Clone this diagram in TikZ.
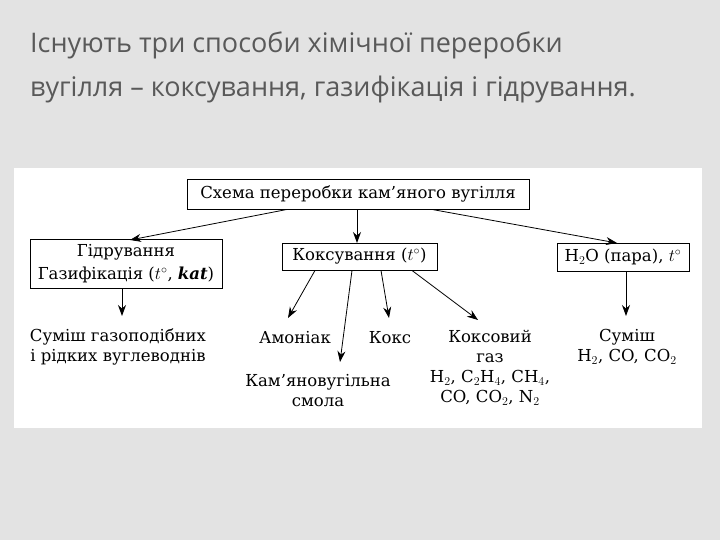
\documentclass[tikz,border=0pt]{standalone}
\usepackage{fontspec}
\setmainfont{DejaVu Serif}
\newfontfamily\titlefont{Open Sans}
\usetikzlibrary{arrows.meta}
\begin{document}
\begin{tikzpicture}[x=1pt,y=-1pt,
  box/.style={draw,line width=0.9pt,fill=white,inner sep=0pt,align=center,font=\fontsize{16.5}{23}\selectfont},
  lbl/.style={align=center,font=\fontsize{16.5}{20}\selectfont,inner sep=0pt},
  arr/.style={-{Stealth[length=11pt,width=8pt]},line width=0.8pt}]
\fill[gray!22] (0,0) rectangle (720,540);
\useasboundingbox (0,0) rectangle (720,540);
\fill[white] (14,168) rectangle (702,428);
\node[anchor=north west,align=left,text=black!65,inner sep=0pt,font=\titlefont\fontsize{27}{44}\selectfont] (title) at (30,32)
 {Існують три способи хімічної переробки\\вугілля – коксування, газифікація і гідрування.};
\node[box,minimum width=342,minimum height=30] (top) at (358,194) {Схема переробки кам’яного вугілля};
\node[box,minimum width=192,minimum height=49] (hyd) at (126,263.5) {Гідрування\\Газифікація ($t^\circ$, \textbf{\textit{kat}})};
\node[box,minimum width=155,minimum height=27] (cok) at (359.5,256.5) {Коксування ($t^\circ$)};
\node[box,minimum width=132,minimum height=28] (h2o) at (623,257) {H$_2$O (пара), $t^\circ$};
\node[lbl] (mix1) at (118,347) {Суміш газоподібних\\і рідких вуглеводнів};
\node[lbl] (amm) at (295,338) {Амоніак};
\node[lbl] (koks) at (390,338) {Кокс};
\node[lbl] (gas) at (490,368) {Коксовий\\газ\\H$_2$, C$_2$H$_4$, CH$_4$,\\CO, CO$_2$, N$_2$};
\node[lbl] (tar) at (318,391) {Кам’яновугільна\\смола};
\node[lbl] (mix2) at (627,347) {Суміш\\H$_2$, CO, CO$_2$};
\coordinate (e1) at (130,240); \coordinate (e2) at (357,243); \coordinate (e3) at (617,243);
\coordinate (e4) at (122,316); \coordinate (e5) at (288,318); \coordinate (e6) at (340,362);
\coordinate (e7) at (389,318); \coordinate (e8) at (478,320); \coordinate (e9) at (626,316);
\draw[arr] (top.south -| 287,0) -- (e1);
\draw[arr] (top.south -| 357,0) -- (e2);
\draw[arr] (top.south -| 432,0) -- (e3);
\draw[arr] (hyd.south -| 122,0) -- (e4);
\draw[arr] (cok.south -| 315,0) -- (e5);
\draw[arr] (cok.south -| 352,0) -- (e6);
\draw[arr] (cok.south -| 381,0) -- (e7);
\draw[arr] (cok.south -| 412,0) -- (e8);
\draw[arr] (h2o.south -| 626,0) -- (e9);
\end{tikzpicture}
\end{document}
